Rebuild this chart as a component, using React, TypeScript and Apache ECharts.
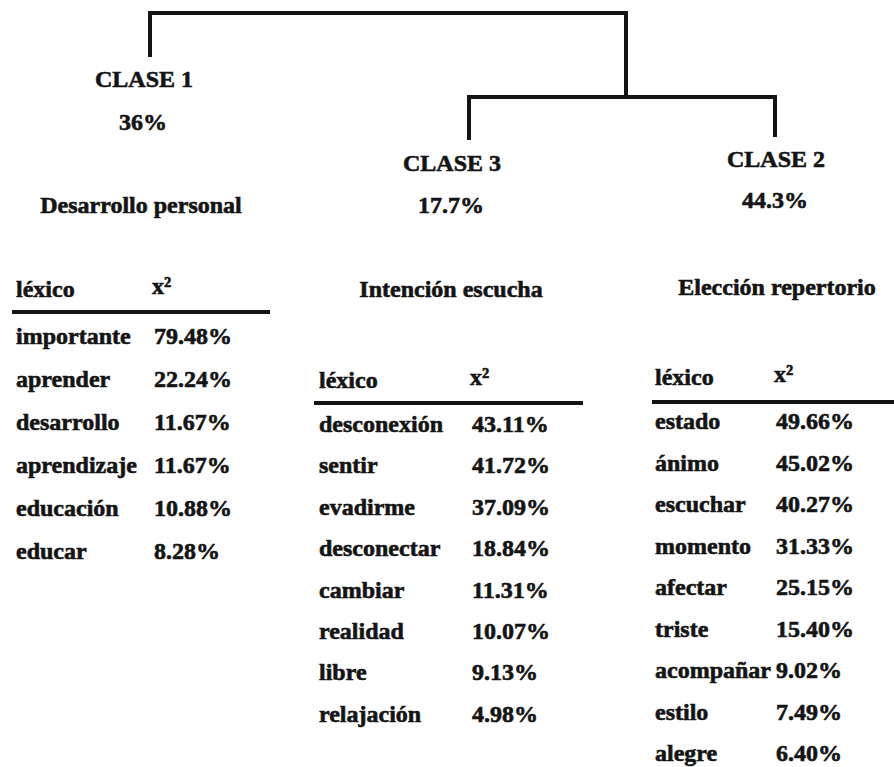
import React, { useEffect, useRef } from "react";
import * as echarts from "echarts";

const classNames = ["CLASE 1", "CLASE 3", "CLASE 2"];
const classPercents = ["36%", "17.7%", "44.3%"];
const themes = ["Desarrollo personal", "Intención escucha", "Elección repertorio"];
const headerLex = "léxico";
const headerChi = "x²";

const lex1 = ["importante", "aprender", "desarrollo", "aprendizaje", "educación", "educar"];
const chi1 = ["79.48%", "22.24%", "11.67%", "11.67%", "10.88%", "8.28%"];

const lex3 = ["desconexión", "sentir", "evadirme", "desconectar", "cambiar", "realidad", "libre", "relajación"];
const chi3 = ["43.11%", "41.72%", "37.09%", "18.84%", "11.31%", "10.07%", "9.13%", "4.98%"];

const lex2 = ["estado", "ánimo", "escuchar", "momento", "afectar", "triste", "acompañar", "estilo", "alegre"];
const chi2 = ["49.66%", "45.02%", "40.27%", "31.33%", "25.15%", "15.40%", "9.02%", "7.49%", "6.40%"];

const FONT = "Liberation Serif";
const COLOR = "#141414";

export default function App() {
  const ref = useRef<HTMLDivElement>(null);
  useEffect(() => {
    if (!ref.current) return;
    const chart = echarts.init(ref.current, null, { renderer: "svg" });
    const g: any[] = [];

    const txt = (x: number, y: number, s: string, align = "left", size = 24) => {
      g.push({
        type: "text",
        x,
        y,
        style: {
          text: s,
          fill: COLOR,
          fontFamily: FONT,
          fontWeight: "bold",
          fontSize: size,
          align,
          verticalAlign: "middle",
          stroke: COLOR,
          lineWidth: 0.6,
        },
      });
    };
    const line = (pts: number[][], w = 4) => {
      g.push({
        type: "polyline",
        shape: { points: pts },
        style: { stroke: COLOR, lineWidth: w, fill: null, lineJoin: "miter" },
      });
    };

    // dendrogram
    line([[150, 57], [150, 13], [626, 13], [626, 96]]);
    line([[469, 140], [469, 97], [775, 97], [775, 137]]);

    // cluster labels
    const labelX = [144, 452, 776];
    const labelY = [79, 163, 159];
    const pctY = [122, 205, 200];
    classNames.forEach((c, i) => {
      txt(labelX[i], labelY[i], c, "center");
      txt(labelX[i] - 1, pctY[i], classPercents[i], "center");
    });

    // theme titles
    const themeX = [141, 451, 777];
    const themeY = [205, 289, 287];
    themes.forEach((t, i) => txt(themeX[i], themeY[i], t, "center"));

    // tables
    const tables = [
      { lex: lex1, chi: chi1, x0: 16, x1: 154, headY: 289, lineY: 312, lx0: 12, lx1: 270, rowY: 336, step: 42.9 },
      { lex: lex3, chi: chi3, x0: 319, x1: 472, headY: 380, lineY: 403, lx0: 314, lx1: 583, rowY: 424, step: 41.4 },
      { lex: lex2, chi: chi2, x0: 655, x1: 776, headY: 377, lineY: 402, lx0: 652, lx1: 894, rowY: 421, step: 41.5 },
    ];
    tables.forEach((t) => {
      txt(t.x0, t.headY, headerLex);
      txt(t.x1 - 2, t.headY - 3, headerChi);
      line([[t.lx0, t.lineY], [t.lx1, t.lineY]], 4);
      t.lex.forEach((w, i) => {
        txt(t.x0, t.rowY + i * t.step, w);
        txt(t.x1, t.rowY + i * t.step, t.chi[i]);
      });
    });

    chart.setOption({
      animation: false,
      backgroundColor: "#ffffff",
      graphic: { elements: g },
    });
    return () => chart.dispose();
  }, []);
  return (
    <div
      ref={ref}
      style={{ position: "absolute", left: 0, top: 0, width: 894, height: 767 }}
    />
  );
}
